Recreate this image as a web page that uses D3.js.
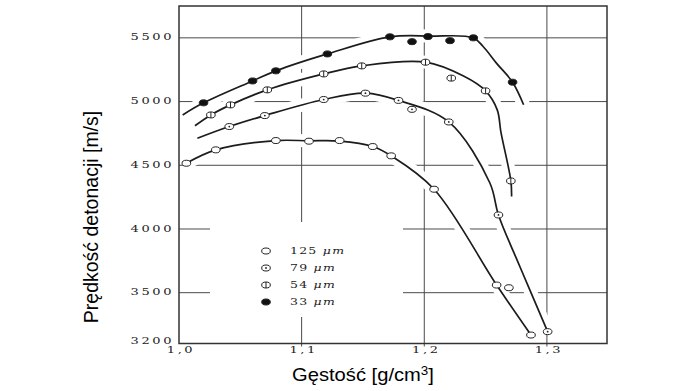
<!DOCTYPE html>
<html><head><meta charset="utf-8">
<script src="https://cdn.jsdelivr.net/npm/d3@7"></script>
<style>body{margin:0;background:#fff;overflow:hidden}</style>
</head><body>
<svg id="c" width="695" height="391"></svg>
<script>
// ---- data ----
const xTickVals = [1.0, 1.1, 1.2, 1.3];
const xTickLabels = ["1,0", "1,1", "1,2", "1,3"];
const yTickVals = [3200, 3500, 4000, 4500, 5000, 5500];
const yTickLabels = ["3200", "3500", "4000", "4500", "5000", "5500"];
const xGridVals = [1.1, 1.2, 1.3];
const yGridVals = [3500, 4000, 4500, 5000, 5500];

const seriesNames = ["125 μm", "79 μm", "54 μm", "33 μm"];
const seriesSymbols = ["open", "dot", "bar", "filled"];

// 125 µm
const p125x = [1.006, 1.030, 1.079, 1.106, 1.131, 1.158, 1.173, 1.208, 1.259, 1.269, 1.287];
const p125y = [4516, 4621, 4694, 4689, 4694, 4647, 4574, 4312, 3560, 3539, 3250];
const c125x = [1.006, 1.030, 1.079, 1.106, 1.131, 1.158, 1.173, 1.208, 1.259, 1.287];
const c125y = [4516, 4621, 4694, 4692, 4690, 4647, 4574, 4312, 3560, 3250];
// 79 µm
const p79x = [1.041, 1.070, 1.118, 1.152, 1.179, 1.190, 1.220, 1.2605, 1.3006];
const p79y = [4804, 4890, 5016, 5066, 5009, 4939, 4840, 4110, 3270];
const c79x = [1.015, 1.041, 1.070, 1.118, 1.152, 1.179, 1.220, 1.2535, 1.2605, 1.278, 1.3006];
const c79y = [4712, 4804, 4890, 5016, 5066, 5009, 4840, 4361, 4110, 3704, 3270];
// 54 µm
const p54x = [1.026, 1.042, 1.072, 1.118, 1.149, 1.201, 1.222, 1.250, 1.2706];
const p54y = [4895, 4974, 5092, 5217, 5280, 5309, 5184, 5084, 4377];
const c54x = [1.013, 1.026, 1.042, 1.072, 1.118, 1.149, 1.201, 1.232, 1.250, 1.2595, 1.2625, 1.2706, 1.2712];
const c54y = [4810, 4895, 4974, 5092, 5217, 5280, 5309, 5200, 5084, 4935, 4760, 4377, 4255];
// 33 µm
const p33x = [1.020, 1.060, 1.079, 1.121, 1.172, 1.190, 1.203, 1.221, 1.240, 1.272];
const p33y = [4990, 5162, 5241, 5374, 5508, 5470, 5510, 5478, 5500, 5152];
const c33x = [1.003, 1.020, 1.060, 1.079, 1.121, 1.172, 1.205, 1.240, 1.248, 1.259, 1.272, 1.281];
const c33y = [4895, 4990, 5162, 5241, 5374, 5508, 5514, 5500, 5432, 5300, 5152, 4975];

const pointsX = [p125x, p79x, p54x, p33x];
const pointsY = [p125y, p79y, p54y, p33y];
const curvesX = [c125x, c79x, c54x, c33x];
const curvesY = [c125y, c79y, c54y, c33y];

// ---- layout ----
const svg = d3.select("#c");
const pLeft = 179, pRight = 607, pTop = 6, pBottom = 343.5;
const x = d3.scaleLinear().domain([1.0, 1.349]).range([pLeft, pRight]);
// original axis: bottom labelled 3200, regular spacing from 3500 upward
const y = d3.scaleLinear().domain([3200, 3500, 5750]).range([pBottom, 292.7, pTop]);

const ink = "#1c1c1c";
const gridCol = "#4a4a4a";
const serif = "'DejaVu Serif','Liberation Serif',serif";
const sans = "'Liberation Sans',Arial,sans-serif";

// gridlines
const grid = svg.append("g");
grid.selectAll("line.h").data(yGridVals).join("line").attr("class", "h")
  .attr("x1", pLeft).attr("x2", pRight)
  .attr("y1", d => y(d)).attr("y2", d => y(d))
  .attr("stroke", gridCol).attr("stroke-width", 1);
grid.selectAll("line.v").data(xGridVals).join("line").attr("class", "v")
  .attr("x1", d => x(d)).attr("x2", d => x(d))
  .attr("y1", pTop).attr("y2", pBottom + 3)
  .attr("stroke", gridCol).attr("stroke-width", 1);

// legend background (hides gridlines behind legend)
const lgX = 266, lgY0 = 251, lgStep = 17;
svg.append("rect").attr("x", lgX - 56).attr("y", lgY0 - 29)
  .attr("width", 193).attr("height", 95).attr("fill", "#fff");

// curves
const line = d3.line().x(d => x(d[0])).y(d => y(d[1])).curve(d3.curveCatmullRom.alpha(0.5));
const curveData = curvesX.map((cx, i) => cx.map((v, j) => [v, curvesY[i][j]]));
svg.append("g").selectAll("path").data(curveData).join("path")
  .attr("d", line).attr("fill", "none").attr("stroke", "#fff").attr("stroke-width", 13);
svg.append("g").selectAll("path").data(curveData).join("path")
  .attr("d", line).attr("fill", "none").attr("stroke", ink).attr("stroke-width", 1.7);

// frame
svg.append("rect").attr("x", pLeft).attr("y", pTop).attr("width", pRight - pLeft).attr("height", pBottom - pTop)
  .attr("fill", "none").attr("stroke", "#333").attr("stroke-width", 1.5);

// markers
function marker(g, type, cx, cy) {
  const rx = 4.3, ry = 3;
  g.append("ellipse").attr("cx", cx).attr("cy", cy).attr("rx", rx).attr("ry", ry)
    .attr("fill", type === "filled" ? "#111" : "#fff")
    .attr("stroke", "#222").attr("stroke-width", 1);
  if (type === "dot") g.append("circle").attr("cx", cx).attr("cy", cy).attr("r", 0.9).attr("fill", "#222");
  if (type === "bar") g.append("line").attr("x1", cx).attr("x2", cx).attr("y1", cy - ry).attr("y2", cy + ry)
    .attr("stroke", "#222").attr("stroke-width", 1);
}
const mg = svg.append("g");
pointsX.forEach((px, i) => px.forEach((v, j) => marker(mg, seriesSymbols[i], x(v), y(pointsY[i][j]))));

// stretched serif text helper
function stext(xp, yp, str, anchor, size, sx, ls) {
  const g = svg.append("g").attr("transform", `translate(${xp},${yp}) scale(${sx},1)`);
  return g.append("text").attr("text-anchor", anchor).attr("dominant-baseline", "middle")
    .attr("font-family", serif).attr("font-size", size).attr("letter-spacing", ls)
    .attr("fill", "#222").text(str);
}
// y tick labels
yTickVals.forEach((v, i) => stext(pLeft - 5, v === 3200 ? y(v) - 2 : y(v), yTickLabels[i], "end", 10, 1.3, 2));
// x tick labels
xTickVals.forEach((v, i) => stext(x(v) + 2, 350, xTickLabels[i], "middle", 10, 1.3, 2));

// legend
seriesNames.forEach((name, i) => {
  const ly = lgY0 + i * lgStep;
  marker(svg, seriesSymbols[i], lgX, ly);
  const g = svg.append("g").attr("transform", `translate(${lgX + 24},${ly}) scale(1.25,1)`);
  const t = g.append("text").attr("dominant-baseline", "middle").attr("font-family", serif)
    .attr("font-size", 10).attr("letter-spacing", 1).attr("fill", "#222");
  const parts = name.split(" ");
  t.append("tspan").text(parts[0] + " ");
  t.append("tspan").attr("font-style", "italic").text(parts[1]);
});

// axis titles
svg.append("g").attr("transform", "translate(363,381) scale(1.12,1)")
  .append("text").attr("text-anchor", "middle").attr("font-family", sans).attr("font-size", 18)
  .attr("fill", "#000").html("Gęstość [g/cm<tspan dy='-6' font-size='12'>3</tspan><tspan dy='6'>]</tspan>");
svg.append("text").attr("transform", "translate(98,217) rotate(-90)")
  .attr("text-anchor", "middle").attr("font-family", sans).attr("font-size", 19.5)
  .attr("fill", "#000").text("Prędkość detonacji [m/s]");
</script>
</body></html>
